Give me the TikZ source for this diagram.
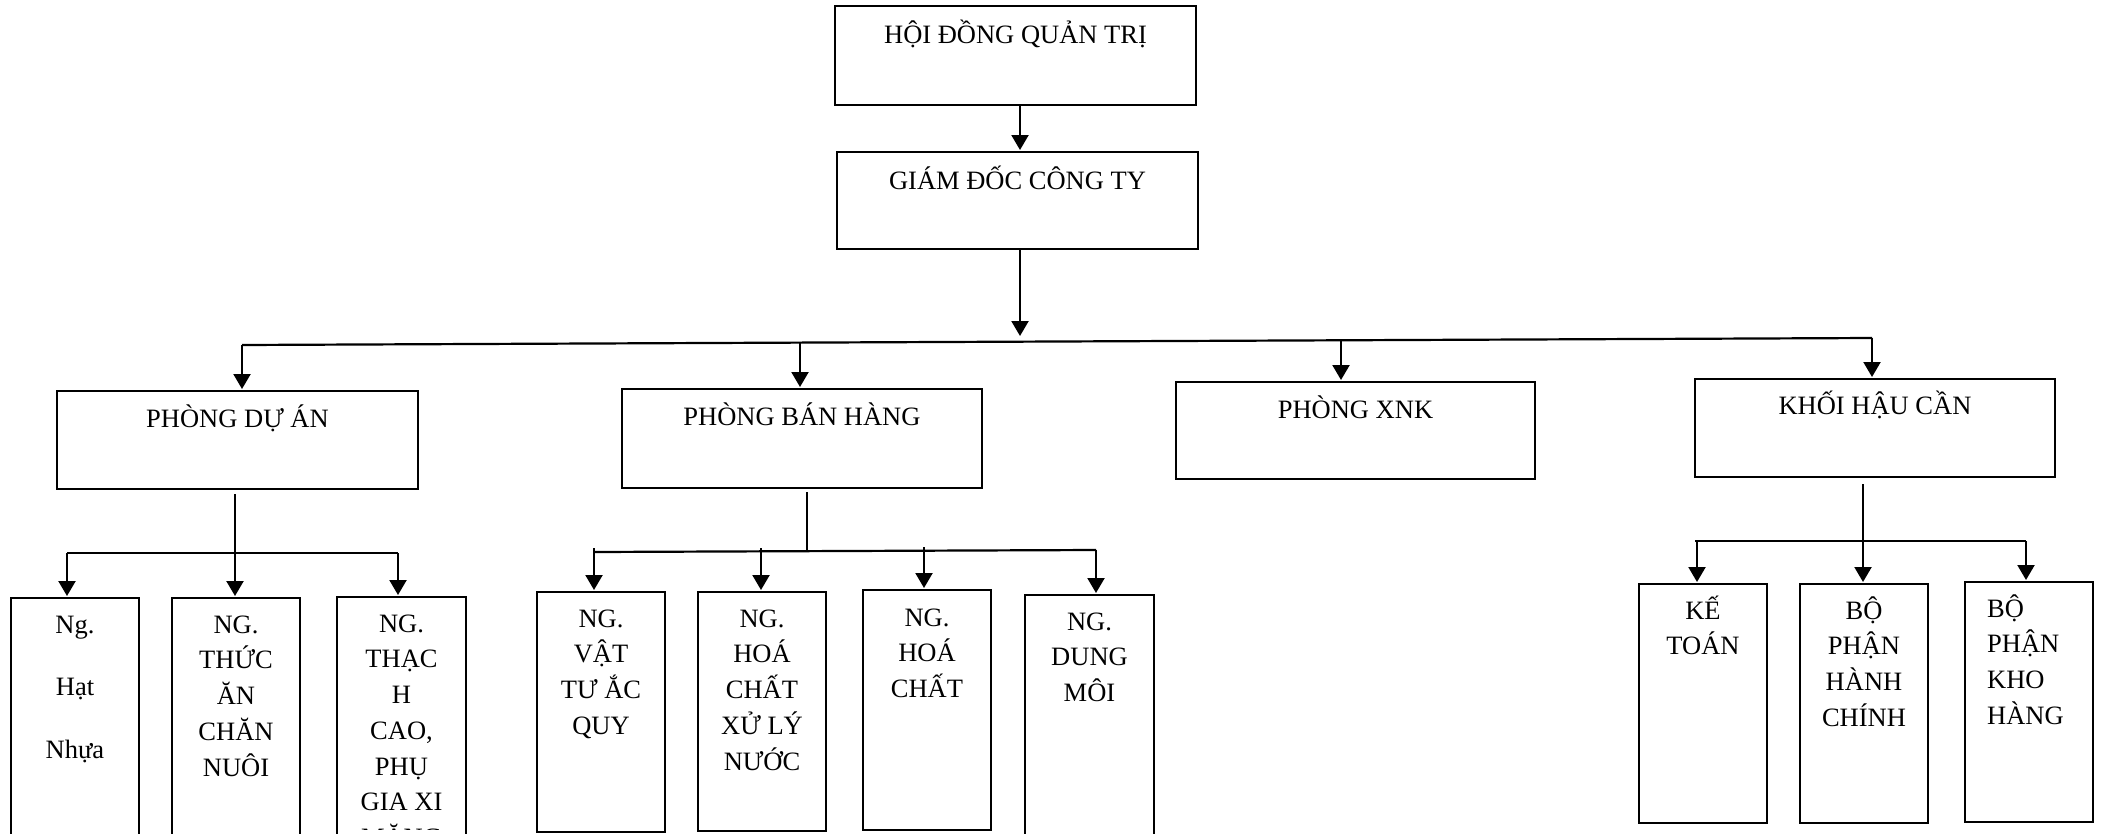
\documentclass[tikz,border=0pt]{standalone}
\usepackage{fontspec}
\setmainfont{Liberation Serif}
\usetikzlibrary{arrows.meta}

% strut that fixes the top of the first text line
\newcommand\firstline{\rule{0pt}{30pt}}
% box from its corners: name, x1, y1, x2, y2
\newcommand\orgbox[5]{%
  \node[box, minimum width={#4-#2}, minimum height={#5-#3}] (#1)
    at ({(#2+#4)/2},{(#3+#5)/2}) {};}

\tikzset{
  box/.style={draw, rectangle, line width=2pt, inner sep=0pt, outer sep=0pt},
  txt/.style={inner sep=0pt, align=center, anchor=north,
              font=\fontsize{26.5}{35.7}\selectfont},
  widetxt/.style={txt, font=\fontsize{26.5}{62.5}\selectfont},
  conn/.style={line width=2.2pt},
  stem/.style={line width=1.7pt},
  arr/.style={line width=2.2pt, shorten >=2pt,
              -{Triangle[width=17pt,length=15pt]}},
}

\begin{document}
\begin{tikzpicture}[x=1pt,y=-1pt]
\useasboundingbox (0,0) rectangle (2105,833);
\clip (0,0) rectangle (2105,833);

% top of the chart
\orgbox{hdqt}{835}{6}{1196}{105}
\orgbox{gd}{837}{152}{1198}{249}
\node[txt] (t-hdqt) at (1015.5,13) {\firstline HỘI ĐỒNG QUẢN TRỊ};
\node[txt] (t-gd) at (1017.5,159) {\firstline GIÁM ĐỐC CÔNG TY};

% departments
\orgbox{pda}{57}{391}{418}{489}
\orgbox{pbh}{622}{389}{982}{488}
\orgbox{xnk}{1176}{382}{1535}{479}
\orgbox{khc}{1695}{379}{2055}{477}
\node[txt] (t-pda) at (237.5,397) {\firstline PHÒNG DỰ ÁN};
\node[txt] (t-pbh) at (802,395) {\firstline PHÒNG BÁN HÀNG};
\node[txt] (t-xnk) at (1355.5,388) {\firstline PHÒNG XNK};
\node[txt] (t-khc) at (1875,384) {\firstline KHỐI HẬU CẦN};

% groups under PHÒNG DỰ ÁN
\orgbox{ng1}{11}{598}{139}{870}
\orgbox{ng2}{172}{598}{300}{870}
\orgbox{ng3}{337}{597}{466}{870}
\node[widetxt] (t-ng1) at (75,603) {\firstline Ng.\\Hạt\\Nhựa};
\node[txt] (t-ng2) at (236,603) {\firstline NG.\\THỨC\\ĂN\\CHĂN\\NUÔI};
\begin{scope}
  \clip (339,599) rectangle (464,829);
  \node[txt] (t-ng3) at (401.5,602)
    {\firstline NG.\\THẠC\\H\\CAO,\\PHỤ\\GIA XI\\MĂNG};
\end{scope}

% groups under PHÒNG BÁN HÀNG
\orgbox{vt}{537}{592}{665}{832}
\orgbox{hcx}{698}{592}{826}{831}
\orgbox{hc}{863}{590}{991}{830}
\orgbox{dm}{1025}{595}{1154}{870}
\node[txt] (t-vt) at (601,597) {\firstline NG.\\VẬT\\TƯ ẮC\\QUY};
\node[txt] (t-hcx) at (762,597) {\firstline NG.\\HOÁ\\CHẤT\\XỬ LÝ\\NƯỚC};
\node[txt] (t-hc) at (927,596) {\firstline NG.\\HOÁ\\CHẤT};
\node[txt] (t-dm) at (1089.5,600) {\firstline NG.\\DUNG\\MÔI};

% units under KHỐI HẬU CẦN
\orgbox{kt}{1639}{584}{1767}{823}
\orgbox{hcn}{1800}{584}{1928}{823}
\orgbox{kho}{1965}{582}{2093}{822}
\node[txt] (t-kt) at (1703,589) {\firstline KẾ\\TOÁN};
\node[txt] (t-hcn) at (1864,589) {\firstline BỘ\\PHẬN\\HÀNH\\CHÍNH};
\node[txt, anchor=north west, align=left] (t-kho) at (1987,587)
  {\firstline BỘ\\PHẬN\\KHO\\HÀNG};

% board -> director -> main bus
\coordinate (ax) at (1020,0);
\coordinate (gdtip) at (1020,336);
\draw[arr] (hdqt.south -| ax) -- (gd.north -| ax);
\draw[arr, shorten >=0pt] (gd.south -| ax) -- (gdtip);

\coordinate (busL) at (242,345);
\coordinate (busB) at (800,342.6);
\coordinate (busX) at (1341,340.3);
\coordinate (busR) at (1872,338);
\draw[conn] (busL) -- (busR);
\draw[arr] (busL) -- (pda.north -| busL);
\draw[arr] (busB) -- (pbh.north -| busB);
\draw[arr] (busX) -- (xnk.north -| busX);
\draw[arr] (busR) -- (khc.north -| busR);

% PHÒNG DỰ ÁN branch
\coordinate (a0) at (235,494);
\coordinate (a1) at (67,553);
\coordinate (a2) at (235,553);
\coordinate (a3) at (398,553);
\draw[stem] (a0) -- (a2);
\draw[conn] (a1) -- (a3);
\draw[arr] (a1) -- (ng1.north -| a1);
\draw[arr] (a2) -- (ng2.north -| a2);
\draw[arr] (a3) -- (ng3.north -| a3);

% PHÒNG BÁN HÀNG branch
\coordinate (b0) at (807,492);
\coordinate (b0e) at (807,551);
\coordinate (bL) at (594,552);
\coordinate (bR) at (1096,550);
\coordinate (b1) at (594,548);
\coordinate (b2) at (761,548);
\coordinate (b3) at (924,547);
\draw[stem] (b0) -- (b0e);
\draw[conn] (bL) -- (bR);
\draw[arr] (b1) -- (vt.north -| b1);
\draw[arr] (b2) -- (hcx.north -| b2);
\draw[arr] (b3) -- (hc.north -| b3);
\draw[arr] (bR) -- (dm.north -| bR);

% KHỐI HẬU CẦN branch
\coordinate (c0) at (1863,484);
\coordinate (c1) at (1697,541);
\coordinate (c2) at (1863,541);
\coordinate (c3) at (2026,541);
\draw[stem] (c0) -- (c2);
\draw[conn] (1695,541) -- (c3);
\draw[arr] (c1) -- (kt.north -| c1);
\draw[arr] (c2) -- (hcn.north -| c2);
\draw[arr] (c3) -- (kho.north -| c3);
\end{tikzpicture}
\end{document}
